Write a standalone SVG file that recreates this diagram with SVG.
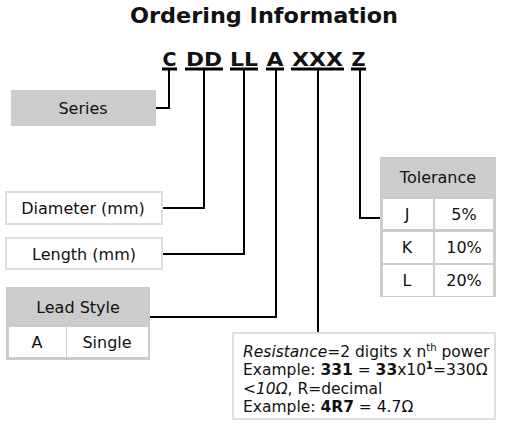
<svg xmlns="http://www.w3.org/2000/svg" width="508" height="434" viewBox="0 0 508 434">
<style>
text{font-family:"DejaVu Sans",Verdana,sans-serif;fill:#111;}
.t{font-size:16px;text-anchor:middle;}
.code{font-size:20px;font-weight:bold;text-anchor:middle;}
.ul{stroke:#000;stroke-width:3;}
.gray{fill:#cccccc;}
.cell{fill:#ffffff;}
.box{fill:#ffffff;stroke:#dddddd;stroke-width:2;}
.conn{fill:none;stroke:#000;stroke-width:2;}
.r{font-size:15.5px;}
</style>
<rect width="508" height="434" fill="#ffffff"/>
<text x="264" y="23" style="font-size:22px;font-weight:bold;text-anchor:middle" textLength="268" lengthAdjust="spacingAndGlyphs">Ordering Information</text>
<g id="code">
<text class="code" x="169.5" y="66" textLength="14" lengthAdjust="spacingAndGlyphs">C</text>
<text class="code" x="204" y="66" textLength="36" lengthAdjust="spacingAndGlyphs">DD</text>
<text class="code" x="244" y="66" textLength="28" lengthAdjust="spacingAndGlyphs">LL</text>
<text class="code" x="275" y="66" textLength="17" lengthAdjust="spacingAndGlyphs">A</text>
<text class="code" x="317.5" y="66" textLength="51" lengthAdjust="spacingAndGlyphs">XXX</text>
<text class="code" x="358.5" y="66" textLength="14" lengthAdjust="spacingAndGlyphs">Z</text>
<line class="ul" x1="162" y1="69" x2="177" y2="69"/>
<line class="ul" x1="185" y1="69" x2="223" y2="69"/>
<line class="ul" x1="230" y1="69" x2="258" y2="69"/>
<line class="ul" x1="266" y1="69" x2="284" y2="69"/>
<line class="ul" x1="291" y1="69" x2="344" y2="69"/>
<line class="ul" x1="351" y1="69" x2="366" y2="69"/>
</g>
<g id="connectors">
<polyline class="conn" points="169,70 169,108 156,108"/>
<polyline class="conn" points="204,70 204,208 162,208"/>
<polyline class="conn" points="244,70 244,254 162,254"/>
<polyline class="conn" points="276,70 276,317 150,317"/>
<polyline class="conn" points="318,70 318,333"/>
<polyline class="conn" points="360,70 360,218 380,218"/>
</g>
<g id="series">
<rect class="gray" x="11" y="90" width="145" height="36"/>
<text class="t" x="83" y="114">Series</text>
</g>
<g id="diameter">
<rect class="box" x="6" y="192" width="156" height="32"/>
<text class="t" x="83" y="214">Diameter (mm)</text>
</g>
<g id="length">
<rect class="box" x="6" y="238" width="156" height="31"/>
<text class="t" x="84" y="260">Length (mm)</text>
</g>
<g id="leadstyle">
<rect class="gray" x="6" y="287" width="144" height="73"/>
<rect class="cell" x="9" y="327" width="57" height="30"/>
<rect class="cell" x="67" y="327" width="81" height="30"/>
<text class="t" x="78" y="313">Lead Style</text>
<text class="t" x="37" y="348">A</text>
<text class="t" x="107" y="348">Single</text>
</g>
<g id="tolerance">
<rect class="gray" x="380" y="157" width="116" height="140"/>
<rect class="cell" x="383" y="199" width="50" height="30"/>
<rect class="cell" x="435" y="199" width="58" height="30"/>
<rect class="cell" x="383" y="232" width="50" height="31"/>
<rect class="cell" x="435" y="232" width="58" height="31"/>
<rect class="cell" x="383" y="265" width="50" height="31"/>
<rect class="cell" x="435" y="265" width="58" height="31"/>
<text class="t" x="438" y="183">Tolerance</text>
<text class="t" x="407" y="220">J</text>
<text class="t" x="464" y="220">5%</text>
<text class="t" x="407" y="253">K</text>
<text class="t" x="464" y="253">10%</text>
<text class="t" x="407" y="286">L</text>
<text class="t" x="464" y="286">20%</text>
</g>
<g id="resistance">
<rect class="box" x="233" y="333" width="262" height="86"/>
<text class="r" x="243" y="357"><tspan font-style="italic">Resistance</tspan>=2 digits x n<tspan font-size="10" dy="-6">th</tspan><tspan dy="6"> power</tspan></text>
<text class="r" x="243" y="375">Example: <tspan font-weight="bold">331</tspan> = <tspan font-weight="bold">33</tspan>x10<tspan font-size="10" dy="-6" font-weight="bold">1</tspan><tspan dy="6">=330Ω</tspan></text>
<text class="r" x="243" y="394"><tspan font-style="italic">&lt;10Ω</tspan>, R=decimal</text>
<text class="r" x="243" y="412">Example: <tspan font-weight="bold">4R7</tspan> = 4.7Ω</text>
</g>
</svg>
